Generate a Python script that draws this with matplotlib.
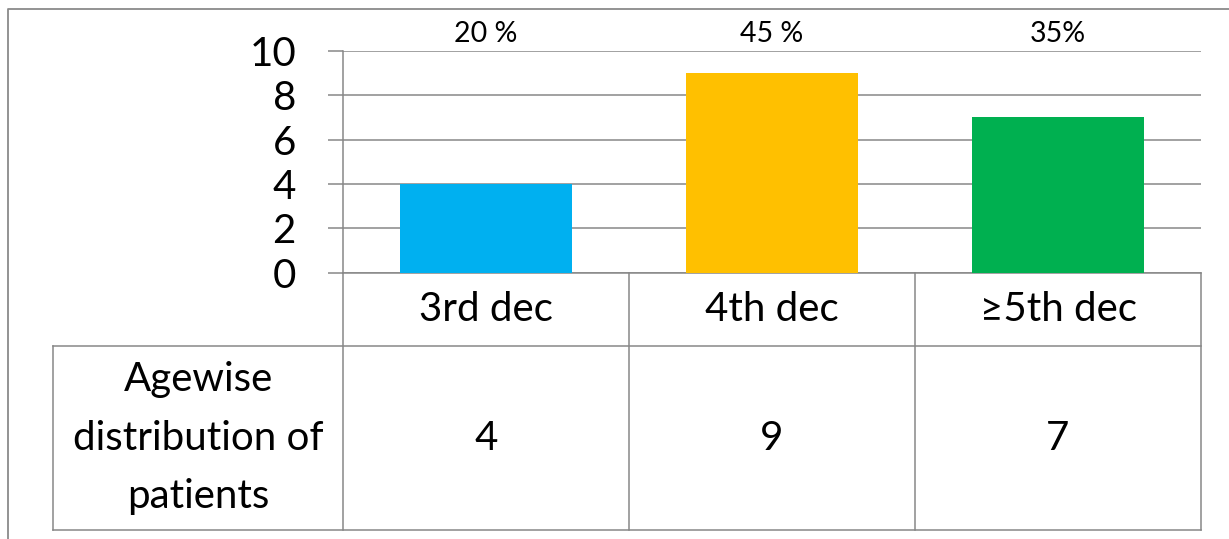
import matplotlib
matplotlib.use("Agg")
import matplotlib.pyplot as plt

plt.rcParams['font.family'] = ['Lato', 'DejaVu Sans']

# data
categories = ["3rd dec", "4th dec", "\u22655th dec"]
counts = [4, 9, 7]
percent_labels = ["20 %", "45 %", "35%"]
row_header = "Agewise\ndistribution of\npatients"
bar_colors = ["#00B0F0", "#FFC000", "#00B050"]

GRID = "#878787"
W, H = 1229, 539

# layout in pixels
plot_left, plot_right = 343, 1201
plot_top, plot_bottom = 51, 272.5
cat_row_bottom = 346
table_bottom = 530
header_left = 53

fig = plt.figure(figsize=(W / 100, H / 100), dpi=100)

ax = fig.add_axes([plot_left / W, 1 - plot_bottom / H,
                   (plot_right - plot_left) / W, (plot_bottom - plot_top) / H])
ax.set_xlim(-0.5, len(categories) - 0.5)
ax.set_ylim(0, 10)
ax.bar(range(len(counts)), counts, width=0.6, color=bar_colors, zorder=3)
ax.set_yticks(range(0, 11, 2))
ax.set_xticks([])
ax.yaxis.grid(True, color=GRID, lw=1.1)
ax.set_axisbelow(True)
for s in ["top", "right"]:
    ax.spines[s].set_visible(False)
for s in ["left", "bottom"]:
    ax.spines[s].set_color(GRID)
    ax.spines[s].set_linewidth(1.1)
ax.tick_params(axis='y', length=15 * 0.72, width=1.1, color=GRID, pad=32 * 0.72,
               labelsize=29)

# percentages above bars, at a fixed pixel height above the plot
label_y = 1 + (plot_top - 34) / (plot_bottom - plot_top)
for i, lab in enumerate(percent_labels):
    ax.text(i, label_y, lab, transform=ax.get_xaxis_transform(), ha='center', va='center',
            fontsize=20.5, color='black')

# overlay for frame and data table
ov = fig.add_axes([0, 0, 1, 1], facecolor='none')
ov.set_xlim(0, W)
ov.set_ylim(H, 0)
ov.axis('off')
lw = 1.1
ov.plot([8, 8, W + 5], [H + 5, 9, 9], color="#8a8a8a", lw=1.3, clip_on=False)

n = len(categories)
col_w = (plot_right - plot_left) / n
edges = [plot_left + col_w * i for i in range(n + 1)]
for x in edges:
    ov.plot([x, x], [plot_bottom, table_bottom], color=GRID, lw=lw)
ov.plot([header_left, plot_right], [cat_row_bottom, cat_row_bottom], color=GRID, lw=lw)
ov.plot([header_left, plot_right], [table_bottom, table_bottom], color=GRID, lw=lw)
ov.plot([header_left, header_left], [cat_row_bottom, table_bottom], color=GRID, lw=lw)

data_mid = (cat_row_bottom + table_bottom) / 2
for i, (cat, c) in enumerate(zip(categories, counts)):
    cx = edges[i] + col_w / 2
    ov.text(cx, (plot_bottom + cat_row_bottom) / 2, cat, ha='center', va='center', fontsize=29)
    ov.text(cx, data_mid, str(c), ha='center', va='center', fontsize=29)
ov.text((header_left + plot_left) / 2, data_mid, row_header, ha='center', va='center',
        fontsize=29, linespacing=1.72)

fig.savefig("out.png", dpi=100)
